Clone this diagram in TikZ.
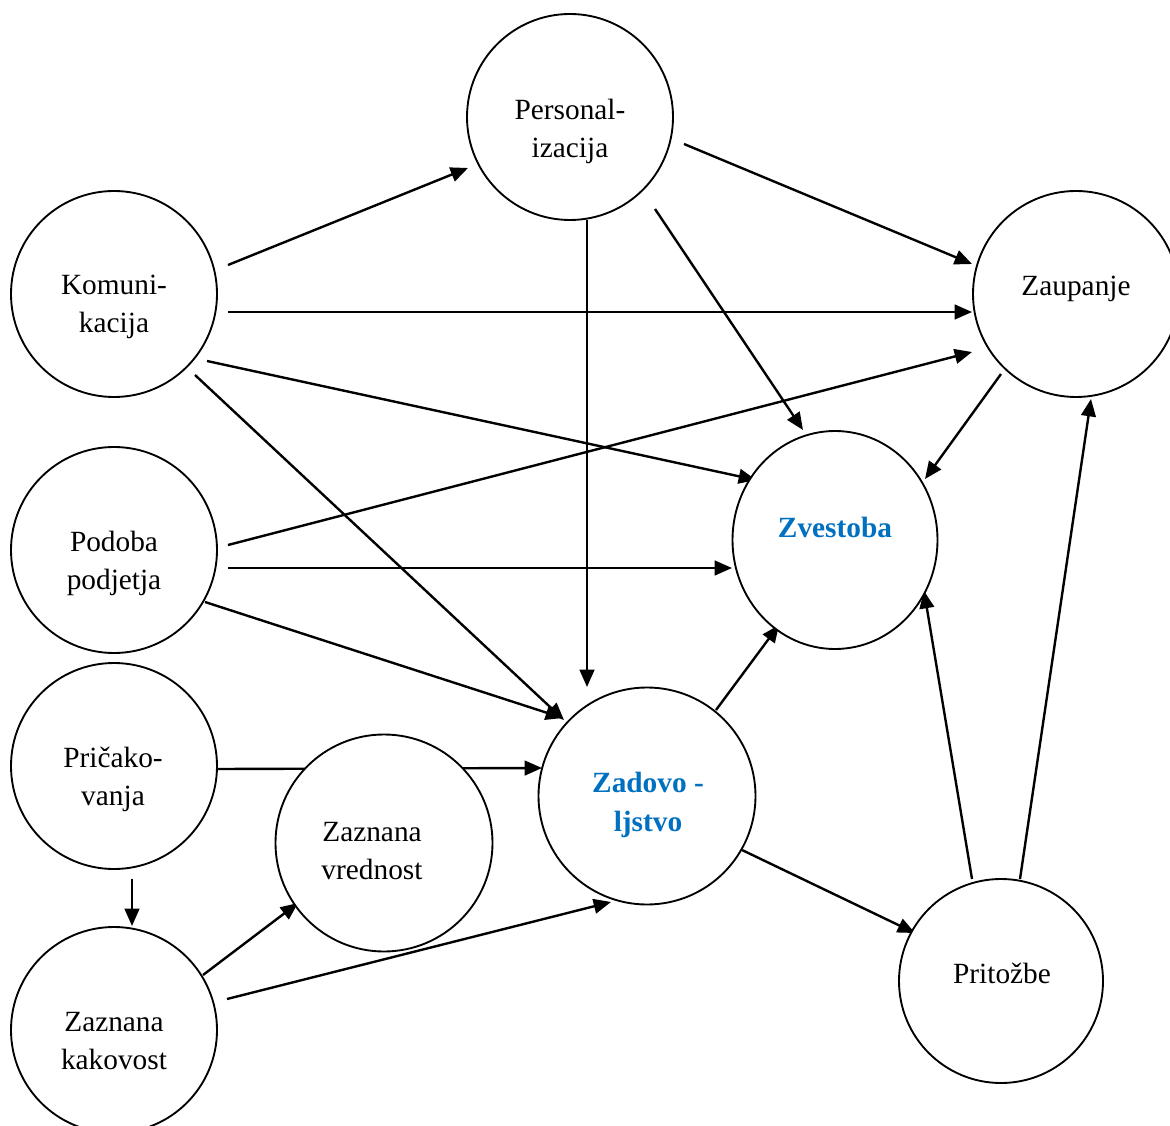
\documentclass[tikz,border=0pt]{standalone}
\usepackage{fontspec}
\setmainfont{Liberation Serif}
\usetikzlibrary{arrows.meta,calc,shapes.geometric}
\definecolor{wblue}{RGB}{0,112,192}
\pgfdeclarelayer{bg}
\pgfsetlayers{bg,main}
\begin{document}
\begin{tikzpicture}[x=0.75pt,y=-0.75pt,
  circ/.style={circle,draw,line width=1.4pt,fill=white,inner sep=0pt,minimum size=154.5pt},
  bigcirc/.style={circ,minimum size=162.75pt},
  ell/.style={ellipse,draw,line width=1.4pt,fill=white,inner sep=0pt,minimum width=153.75pt,minimum height=163.5pt},
  txt/.style={align=center,font=\fontsize{22}{28.5}\selectfont,inner sep=0pt},
  btxt/.style={align=center,font=\fontsize{22}{29.5}\selectfont\bfseries,text=wblue,inner sep=0pt},
  arr/.style={line width=1.8pt,-{Triangle[length=13pt,width=11pt]}}]
\useasboundingbox (0,0) rectangle (1170,1126);
% circles
\node[circ] (kom) at (114,294) {};
\node[circ] (per) at (570,117) {};
\node[circ] (zau) at (1076,294) {};
\node[circ] (pod) at (114,550) {};
\node[ell] (zve) at (835,540) {};
\node[circ] (pri) at (114,766) {};
\node[bigcirc] (zv) at (384,843) {};
\node[bigcirc] (zad) at (647,796) {};
\node[circ,minimum size=153pt] (prz) at (1001,981) {};
\node[circ] (zk) at (114,1030) {};
% texts
\node[txt] (komt) at (114,307) {Komuni-\\kacija};
\node[txt] (pert) at (570,131) {Personal-\\izacija};
\node[txt] (zaut) at (1076,289) {Zaupanje};
\node[txt] (podt) at (114,563) {Podoba\\podjetja};
\node[btxt] (zvet) at (835,527) {Zvestoba};
\node[txt] (prit) at (113,779) {Pričako-\\vanja};
\node[txt] (zvt) at (372,851) {Zaznana\\vrednost};
\node[btxt] (zadt) at (648,805) {Zadovo -\\ljstvo};
\node[txt] (przt) at (1002,973) {Pritožbe};
\node[txt] (zkt) at (114,1041) {Zaznana\\kakovost};
% connectors
\begin{pgfonlayer}{bg}
\draw[arr] ($(kom)+(114,-29)$) -- ($(per)+(-102,51)$);
\draw[arr] ($(kom)+(114,18)$) -- ($(zau)+(-104,18)$);
\draw[arr] ($(kom)+(93,67)$) -- ($(zve)+(-79,-60)$);
\draw[arr] ($(kom)+(81,81)$) -- ($(zad)+(-83,-76)$);
\draw[arr] ($(per)+(114,27)$) -- ($(zau)+(-104,-30)$);
\draw[arr] ($(per)+(17,103)$) -- ($(zad)+(-60,-109)$);
\draw[arr] ($(per)+(85,92)$) -- ($(zve)+(-32,-110)$);
\draw[arr] ($(zau)+(-75,80)$) -- ($(zve)+(90,-61)$);
\draw[arr] ($(pod)+(114,-5)$) -- ($(zau)+(-104,58)$);
\draw[arr] ($(pod)+(114,18)$) -- ($(zve)+(-103,28)$);
\draw[arr] ($(pod)+(91,52)$) -- ($(zad)+(-84,-78)$);
\draw[arr] ($(pri)+(103,3)$) -- ($(zad)+(-105,-28)$);
\draw[arr] ($(pri)+(18,113)$) -- ($(zk)+(18,-104)$);
\draw[arr] ($(zk)+(89,-55)$) -- ($(zv)+(-86,60)$);
\draw[arr] ($(zk)+(113,-31)$) -- ($(zad)+(-36,106)$);
\draw[arr] ($(zad)+(69,-86)$) -- ($(zve)+(-56,85)$);
\draw[arr] ($(zad)+(95,54)$) -- ($(prz)+(-86,-48)$);
\draw[arr] ($(prz)+(-29,-102)$) -- ($(zve)+(89,51)$);
\draw[arr] ($(prz)+(19,-102)$) -- ($(zau)+(15,105)$);
\end{pgfonlayer}
\end{tikzpicture}
\end{document}
